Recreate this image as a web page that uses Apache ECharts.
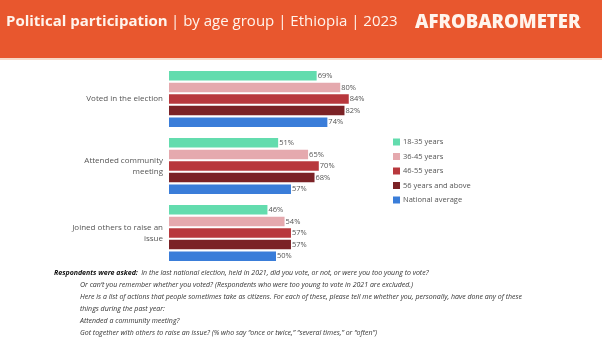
<!DOCTYPE html>
<html><head><meta charset="utf-8">
<script src="https://cdn.jsdelivr.net/npm/echarts@6/dist/echarts.min.js"></script>
<style>html,body{margin:0;padding:0;background:#fff}#c{width:602px;height:339px}</style>
</head><body><div id="c"></div>
<script>
// Categories listed bottom-to-top (y axis not inverted)
const categories = ['Joined others to raise an\nissue', 'Attended community\nmeeting', 'Voted in the election'];
const seriesNames = ['18-35 years', '36-45 years', '46-55 years', '56 years and above', 'National average'];
const v18_35 = [46, 51, 69];
const v36_45 = [54, 65, 80];
const v46_55 = [57, 70, 84];
const v56plus = [57, 68, 82];
const vNational = [50, 57, 74];
const colors = ['#63dcae', '#e5a9ae', '#b8383d', '#7b2226', '#3a7dd9'];

const values = [v18_35, v36_45, v46_55, v56plus, vNational];
const FONT = 'Open Sans';
const series = seriesNames.map((name, i) => ({
  name: name, type: 'bar', data: values[i],
  barWidth: 9.5, barGap: '22%',
  itemStyle: { color: colors[i] },
  label: { show: true, position: 'right', distance: 1, formatter: '{c}%',
           fontFamily: FONT, fontSize: 7.5, color: '#555' }
}));
const chart = echarts.init(document.getElementById('c'), null, { renderer: 'canvas' });
chart.setOption({
  animation: false,
  grid: { left: 169, top: 65.5, width: 214, height: 201, containLabel: false },
  xAxis: { type: 'value', min: 0, max: 100, show: false },
  yAxis: { type: 'category', data: categories,
    axisLine: { show: false }, axisTick: { show: false },
    axisLabel: { fontFamily: FONT, fontSize: 8, color: '#555', margin: 6, lineHeight: 11, align: 'right' } },
  legend: { orient: 'vertical', left: 388, top: 133, itemWidth: 7, itemHeight: 7, itemGap: 6.5,
    icon: 'rect', data: seriesNames,
    textStyle: { fontFamily: FONT, fontSize: 7.5, color: '#555', padding: [0,0,0,-2] } },
  series: series,
  graphic: [
    { type: 'rect', left: 0, top: 0, shape: { width: 602, height: 58 }, style: { fill: '#e8572e' }, z: -1 },
    { type: 'rect', left: 0, top: 58, shape: { width: 602, height: 2 }, style: { fill: '#f7d9c8' }, z: -1 },
    { type: 'text', left: 6, top: 14, style: { rich: {
        b: { fontFamily: FONT, fontSize: 15, fontWeight: 'bold', fill: '#fff4ec' },
        n: { fontFamily: FONT, fontSize: 15, fontWeight: 'normal', fill: '#fff4ec' } },
      text: '{b|Political participation} {n|| by age group | Ethiopia | 2023}' } },
    { type: 'text', left: 415, top: 13, style: { text: 'AFROBAROMETER', fontFamily: FONT,
        fontSize: 18.5, fontWeight: 900, fill: '#fff4ec' } },
    { type: 'text', left: 54, top: 267, style: { rich: {
        b: { fontFamily: FONT, fontSize: 7, fontWeight: 'bold', fontStyle: 'italic', fill: '#111' },
        n: { fontFamily: FONT, fontSize: 7, fontStyle: 'italic', fill: '#333' } },
      text: '{b|Respondents were asked:} {n|In the last national election, held in 2021, did you vote, or not, or were you too young to vote?}' } },
    { type: 'text', left: 80, top: 279, style: { fontFamily: FONT, fontSize: 7, fontStyle: 'italic', fill: '#333', lineHeight: 12,
      text: 'Or can\u2019t you remember whether you voted? (Respondents who were too young to vote in 2021 are excluded.)\n' +
            'Here is a list of actions that people sometimes take as citizens. For each of these, please tell me whether you, personally, have done any of these\n' +
            'things during the past year:\n' +
            'Attended a community meeting?\n' +
            'Got together with others to raise an issue? (% who say \u201conce or twice,\u201d \u201cseveral times,\u201d or \u201coften\u201d)' } }
  ]
});
</script></body></html>
